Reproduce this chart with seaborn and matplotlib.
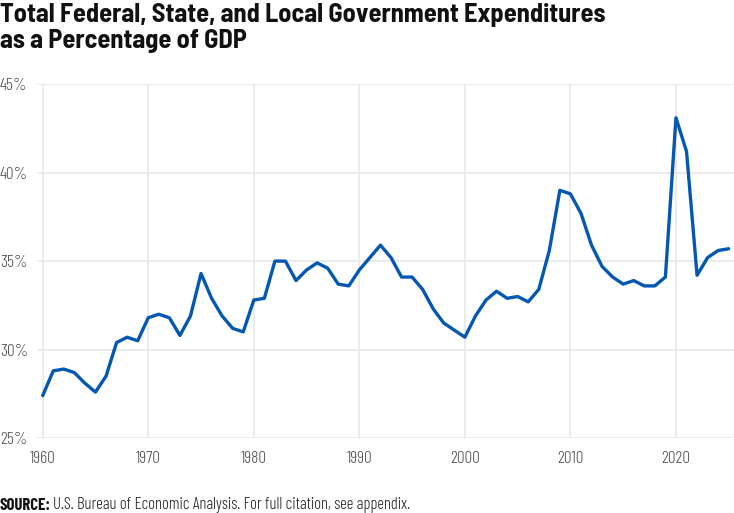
import numpy as np
import pandas as pd
import seaborn as sns
import matplotlib.pyplot as plt

# data (percent of GDP)
years = list(range(1960, 2026))
gasto_pct = [
    27.4, 28.8, 28.9, 28.7, 28.1, 27.6, 28.5, 30.4, 30.7, 30.5,  # 1960s
    31.8, 32.0, 31.8, 30.8, 31.9, 34.3, 32.9, 31.9, 31.2, 31.0,  # 1970s
    32.8, 32.9, 35.0, 35.0, 33.9, 34.5, 34.9, 34.6, 33.7, 33.6,  # 1980s
    34.5, 35.2, 35.9, 35.2, 34.1, 34.1, 33.4, 32.3, 31.5, 31.1,  # 1990s
    30.7, 31.9, 32.8, 33.3, 32.9, 33.0, 32.7, 33.4, 35.6, 39.0,  # 2000s
    38.8, 37.7, 35.9, 34.7, 34.1, 33.7, 33.9, 33.6, 33.6, 34.1,  # 2010s
    43.1, 41.2, 34.2, 35.2, 35.6, 35.7,                          # 2020s
]
yticks = [25, 30, 35, 40, 45]
xticks = [1960, 1970, 1980, 1990, 2000, 2010, 2020]

titulo = "Total Federal, State, and Local Government Expenditures\nas a Percentage of GDP"
fuente = "U.S. Bureau of Economic Analysis. For full citation, see appendix."

df = pd.DataFrame({"year": years, "pct": gasto_pct})

sns.set_style("white")
plt.rcParams["font.family"] = ["Barlow Semi Condensed", "DejaVu Sans"]
fuente_fina = ["Barlow Condensed", "DejaVu Sans"]

fig = plt.figure(figsize=(7.34, 5.13), dpi=100)
ax = fig.add_axes([0.051, 0.146, 0.949, 0.690])

sns.lineplot(data=df, x="year", y="pct", ax=ax, color="#0458b2", linewidth=2.4)

ax.set_xlim(1959.5, 2025.5)
ax.set_ylim(25, 45)
ax.set_xticks(xticks)
ax.set_yticks(yticks)
ax.set_yticklabels([f"{v}%" for v in yticks])
ax.grid(True, color="#e8e8e8", linewidth=1.2)
ax.set_axisbelow(True)
for s in ax.spines.values():
    s.set_visible(False)
ax.set_xlabel("")
ax.set_ylabel("")

ax.tick_params(axis="both", length=0, labelsize=12.5, labelcolor="#505050")
ax.tick_params(axis="y", pad=27)
ax.tick_params(axis="x", pad=9)
for lab in ax.get_yticklabels() + ax.get_xticklabels():
    lab.set_fontfamily(fuente_fina)
    lab.set_fontweight(300)
for lab in ax.get_yticklabels():
    lab.set_horizontalalignment("left")

fig.text(0.0, 0.995, titulo, fontsize=19, fontweight="bold", color="#111111",
         va="top", ha="left", linespacing=1.12)

# SOURCE line: bold label + regular text
t1 = fig.text(0.0, 0.0, "SOURCE:", fontsize=12, fontweight="bold", color="#111111",
              va="bottom", ha="left", family=fuente_fina)
fig.canvas.draw()
bb = t1.get_window_extent(renderer=fig.canvas.get_renderer())
x2 = bb.x1 / fig.bbox.width + 0.003
fig.text(x2, 0.0, fuente, fontsize=12, color="#222222", va="bottom", ha="left",
         family=fuente_fina, fontweight=300)

fig.savefig("out.png", dpi=100)
